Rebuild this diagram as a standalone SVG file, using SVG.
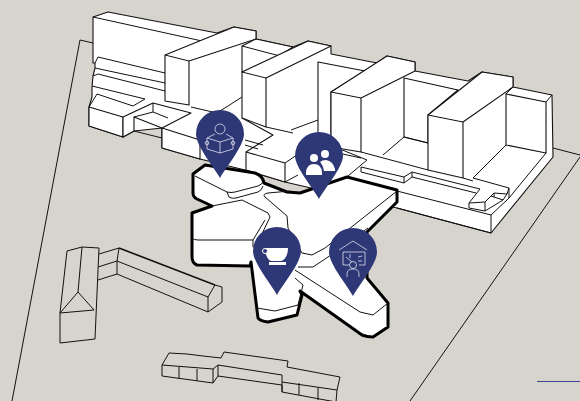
<svg xmlns="http://www.w3.org/2000/svg" width="580" height="401" viewBox="0 0 580 401">
<style>
.w{fill:#fff;stroke:#111;stroke-width:1.1;stroke-linejoin:round}
.l{fill:none;stroke:#111;stroke-width:1;stroke-linejoin:round}
.t{fill:#fff;stroke:#000;stroke-width:3;stroke-linejoin:round}
.p{fill:#2f3876}
.i{fill:none;stroke:#dfe0ee;stroke-width:.8;stroke-linejoin:round}
.f{fill:#fff}
</style>
<rect width="580" height="401" fill="#d6d4cc"/>
<g id="site">
<path class="l" d="M12,401L80,40L93,43"/>
<path class="l" d="M553,148L580,155"/>
<path class="l" d="M580,157L410,401"/>
<path d="M537,381.500H580" fill="none" stroke="#3a4590" stroke-width="1"/>
</g>
<g id="main-building">
<path class="w" d="M93,17L108,12L217,33L234,27L256,31V39L293,47L308,41L331,46V54L377,63L387,56L415,62V71L468,81L482,72L513,77V87L552,95L553,157L491,233L397,208L285,182L245,170L200,159L162,148V128L134,131L123,137L89,126V107L92,97V87L93,76L95,68V63L93,63V17Z"/>
<path class="l" d="M93,17L202,41M95,63L98,57L165,73M95,68L165,83M93,76L98,74L165,91M92,86L145,99L133,106L97,94L89,107"/>
<path class="w" d="M89,107L123,117V137L89,126Z"/>
<path class="w" d="M123,117L153,103L191,113L162,128L200,140V159L162,148V128L134,117V131L123,137Z"/>
<path class="l" d="M134,117L153,112V103M153,112L168,118M134,131L162,138"/>
<path class="l" d="M191,107L217,113L242,97"/>
<path class="w" d="M165,55L234,27L256,31V39L189,61V105L165,101Z"/>
<path class="l" d="M165,55L189,61"/>
<path class="w" d="M242,46L256,39L293,47L270,62L242,72Z"/>
<path class="l" d="M242,46L280,56"/>
<path class="w" d="M242,72L308,41L331,46L266,78V127L242,118Z"/>
<path class="l" d="M242,72L266,78"/>
<path class="w" d="M242,118L273,135L246,152V170L285,182V163L246,152"/>
<path class="l" d="M266,127L293,133M245,140L263,145M245,145L258,149M285,163L307,148M285,182L298,175M291,130L318,120"/>
<path class="w" d="M318,62L365,71L331,92V147L318,143Z"/>
<path class="w" d="M331,92L387,56L415,62V71L361,98V152L331,147Z"/>
<path class="l" d="M331,92L361,98"/>
<path class="w" d="M404,78L458,90L428,115V143L404,137Z"/>
<path class="l" d="M383,155L404,137L428,143"/>
<path class="w" d="M428,115L482,72L513,77V87L463,122V178L428,170Z"/>
<path class="l" d="M428,115L463,122"/>
<path class="w" d="M506,94L546,102V153L506,145Z"/>
<path class="l" d="M552,95L546,102M513,87L506,94M506,145L473,178L509,188V198L546,153M509,188L507,194"/>
<path class="l" d="M361,152L428,170M463,178L473,181"/>
<path class="l" d="M330,145L367,160L348,176M338,153L361,158M361,167L404,177L412,172L480,189L469,203V208L485,211V202L469,203M361,172L404,183V177M404,183L412,177V172M412,177L476,193M361,167V172M485,202L494,193L507,194L503,200L491,196M485,211L503,200M494,193V197M509,198L491,215L397,191M491,215V233M397,208L491,233"/>
</g>
<g id="central">
<path class="t" d="M193,174L205,165L255,173Q263,176 264,183L287,192L300,193L347,177L397,190V202L367,232V278L388,303V327L373,337Q367,337 362,335L300,291L302,295L297,315L268,322Q260,321 258,318L251,262L250,266L197,265Q192,263 192,257V213L212,206L197,199Q193,197 193,193Z"/>
<path class="l" d="M195,176L227,192Q231,193 235,192L258,186Q263,184 263,181"/>
<path class="l" d="M227,192L229,197Q232,199 236,198L258,192Q262,190 263,186"/>
<path class="l" d="M212,206L242,200L268,213L270,217L260,238"/>
<path class="l" d="M192,238Q194,240 198,240L253,240V247L262,247M265,220L253,240"/>
<path class="l" d="M290,191L268,193Q262,194 265,197L287,216L288,228L302,253L312,255L325,248L397,191"/>
<path class="l" d="M298,267H313L328,257L368,228"/>
<path class="l" d="M295,270L360,312L373,315L388,303"/>
<path class="l" d="M295,278L303,285L298,305L275,311L257,308"/>
</g>
<g id="west-building">
<path class="l" d="M60,313L67,251L82,247L99,248L95,339L60,343ZM60,313L94,310L78,292ZM82,247L78,292M99,254L119,248L117,261L98,267M117,261V274L98,280M117,261L208,297M117,274L208,312M208,297V312L222,302V287L215,285L208,297"/>
<path fill="none" stroke="#111" stroke-width="1.600" d="M119,248L215,285"/>
</g>
<g id="south-building">
<path class="l" d="M162,365L169,353L187,354L203,356L221,358L224,352L288,361L287,367L340,377L337,390L336,402M162,365V376L213,383L218,376L282,385V392L336,402M162,365L213,369L218,365L282,375V392M213,369V383M218,365V376M179,367V379M197,369V381M282,382L337,390M299,383V395M318,388V400"/>
</g>
<g id="pin-study">
<path class="p" d="M220,178C214,167 196,146 196,134A24,24 0 0 1 244,134C244,146 226,167 220,178Z"/>
<circle class="i" cx="220" cy="129" r="5"/>
<path class="i" d="M215,134L207,138L220,142L233,138L226,134M207,138V149L220,153L233,149V138M220,142V153"/>
<circle class="i" cx="207" cy="143" r="1.800"/>
<circle class="i" cx="233" cy="143" r="1.800"/>
</g>
<g id="pin-people">
<path class="p" d="M319,199C313,188 295,167 295,156A24,24 0 0 1 343,156C343,167 325,188 319,199Z"/>
<circle class="f" cx="314" cy="158" r="4"/>
<circle class="f" cx="325" cy="154" r="4"/>
<path class="f" d="M306,175V172Q307,164 314,164Q321,164 322,172V175Z"/>
<path class="f" d="M324,171Q323,165 320,162Q322,160 326,160Q333,161 335,169V171Z"/>
</g>
<g id="pin-cafe">
<path class="p" d="M277,295C271,284 253,263 253,251A24,24 0 0 1 301,251C301,263 283,284 277,295Z"/>
<path class="f" d="M265,248H288C288,255 285,260 281,261H271C268,260 265,255 265,248Z"/>
<circle cx="265" cy="251" r="2.500" fill="#2f3876" stroke="#fff" stroke-width="1"/>
<rect class="f" x="269" y="262" width="17" height="3"/>
</g>
<g id="pin-teacher">
<path class="p" d="M353,296C347,285 329,264 329,252A24,24 0 0 1 377,252C377,264 359,285 353,296Z"/>
<path class="i" d="M339,250L353,241L367,250M343,252H365V265H359M343,252V265H349M346,257L352,262M350,254V258M358,257L362,256M358,261L362,261"/>
<circle class="i" cx="353" cy="265" r="3.500"/>
<path class="i" d="M347,277V274Q347,269 353,269Q359,269 359,274V277"/>
</g>
</svg>
